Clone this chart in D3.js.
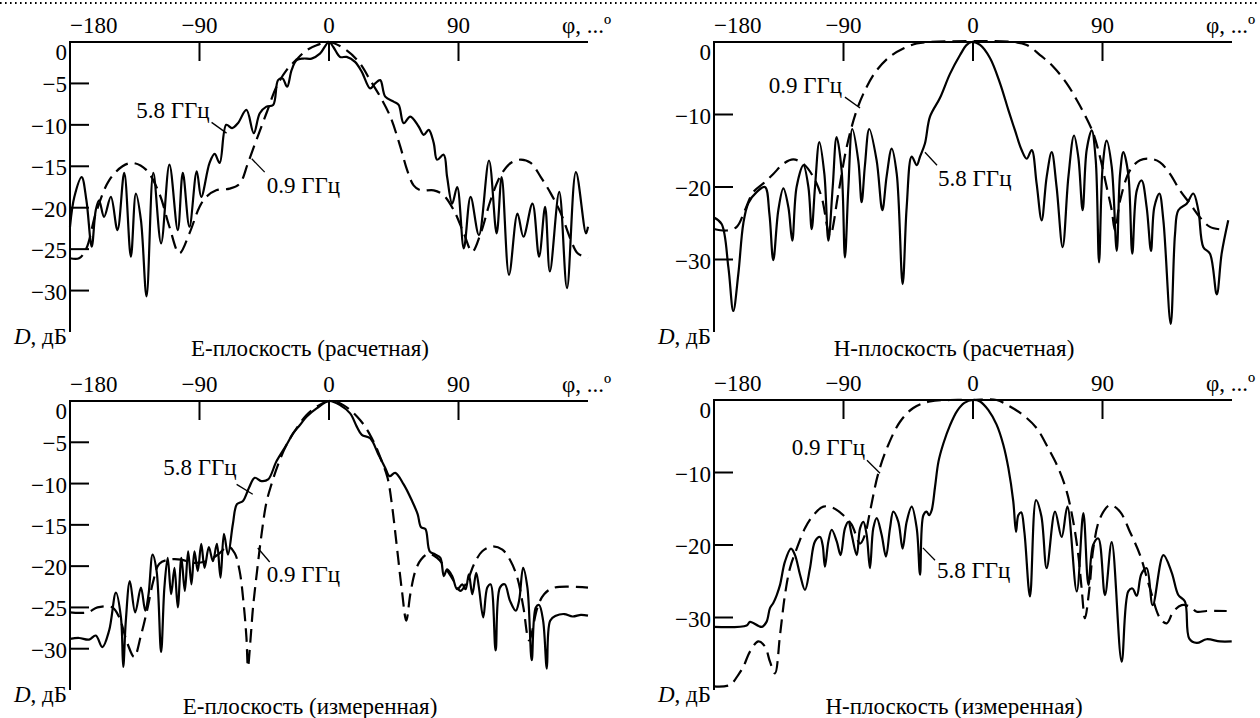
<!DOCTYPE html>
<html>
<head>
<meta charset="utf-8">
<script src="https://cdn.jsdelivr.net/npm/d3@7"></script>
<style>
  body { margin: 0; background: #fff; font-family: "Liberation Serif", serif; }
  svg { display: block; }
</style>
</head>
<body>
<div id="viz"></div>
<script>
// angle ticks and level ticks
const phiLabels = [-180, -90, 0, 90]
const phiTicks = [-90, 0, 90]
const dbTicksE = [0, -5, -10, -15, -20, -25, -30]
const dbTicksH = [0, -10, -20, -30]

// E-plane, calculated: [phi, dB]
const eCalc58 = [[-180,-22.3],[-177,-18.7],[-171.9,-16.3],[-168.6,-19.1],[-164.9,-24.7],[-162.1,-20.3],[-159.8,-19.1],[-156.3,-21.1],[-151.6,-18.7],[-147,-22.7],[-142.3,-15.8],[-137.7,-25.9],[-134.2,-18.3],[-130.7,-21.5],[-126.8,-30.7],[-122.1,-15.8],[-116.7,-24.3],[-110.9,-14.8],[-105.1,-22.7],[-101.6,-15.8],[-97,-22.3],[-91.9,-15.6],[-88.8,-18.7],[-83,-14.6],[-79.5,-13.5],[-76,-14.6],[-71.4,-10],[-67.4,-10.4],[-63.3,-9.8],[-57.4,-8.2],[-52.3,-11],[-48.1,-8.6],[-43.5,-7.8],[-38.8,-7.6],[-35.4,-4.6],[-32.3,-4.4],[-29.1,-5.4],[-26,-3.4],[-22.5,-2.2],[-17.9,-2],[-12.1,-2],[-6.3,-1.4],[0,0],[3,-0.6],[7.7,-1.8],[12.3,-1.8],[18.1,-2.4],[22.8,-3.6],[28.6,-5.6],[32.1,-5],[35.6,-4.6],[39.1,-6.6],[44.9,-7.2],[48.4,-7.6],[51.9,-9.8],[56.5,-9],[62.3,-10.2],[65.8,-11.2],[69.3,-10.6],[72.8,-12.2],[75.1,-14.2],[79.7,-13.6],[82.1,-16.3],[85.6,-19.5],[89.1,-17.5],[93.7,-24.9],[98.4,-18.7],[104.2,-23.3],[111.2,-14.3],[116.5,-23.1],[120,-16.3],[125.1,-28.1],[131,-20.7],[135.1,-23.5],[141.4,-19.5],[146,-25.9],[150.2,-19.9],[153.5,-27.7],[160,-18.1],[165.4,-29.7],[171.6,-15.7],[178.6,-23.1],[180,-22.3]]
const eCalc09 = [[-180,-26.1],[-173.7,-26.1],[-168.6,-24.9],[-162.1,-20.7],[-152.8,-16.7],[-143.5,-15],[-136.5,-14.6],[-127.2,-15.4],[-117.9,-18.3],[-110.9,-22.3],[-104,-25.5],[-97,-23.1],[-90,-19.9],[-85.3,-18.7],[-78.4,-17.9],[-69.1,-17.7],[-62.1,-17.1],[-56.3,-14.6],[-50.4,-11.8],[-43.5,-8.6],[-36.5,-5.4],[-29.5,-3.4],[-22.5,-2.1],[-15.6,-1],[-8.6,-0.4],[0,0],[12.3,-1],[21.6,-2.6],[28.6,-4.6],[35.6,-6.6],[42.6,-9],[49.5,-12.6],[54.2,-15.4],[58.8,-17.3],[63.5,-17.9],[72.8,-17.9],[79.7,-18.5],[86.7,-20.3],[93.7,-23.1],[99.5,-25.3],[105.4,-23.1],[112.3,-19.1],[119.3,-16.1],[126.3,-14.6],[133.3,-14.2],[140.2,-14.6],[147.2,-16.3],[154.2,-18.3],[161.2,-20.7],[168.1,-23.9],[172.8,-25.5],[180,-26.1]]

// H-plane, calculated
const hCalc58 = [[-180,-24.2],[-174.7,-25.1],[-170,-31.1],[-166.6,-37.1],[-163.1,-32],[-159.6,-25],[-156.1,-22.2],[-150.4,-20.7],[-144.6,-20],[-141.5,-23.7],[-138.8,-30.1],[-135.3,-23.2],[-131.8,-20.2],[-128.3,-22.8],[-125.6,-27.4],[-122.6,-20],[-117.9,-17],[-114.4,-20],[-112.1,-25.8],[-109.8,-20],[-106.8,-13.8],[-103.3,-18.2],[-100.5,-27.4],[-97.5,-20],[-94.8,-13.1],[-91.3,-17.7],[-89,-29.7],[-86.6,-20],[-83.9,-12],[-79.7,-16.4],[-77.4,-22.1],[-75.1,-17],[-72.1,-12],[-67,-16.3],[-63,-23.2],[-60,-18.5],[-56.5,-14.7],[-53,-18.2],[-48.9,-33.4],[-46.1,-22.8],[-42.6,-15.8],[-39.1,-17],[-36.8,-15.8],[-33.4,-14],[-29.9,-10.3],[-22.9,-7.7],[-16,-4.4],[-9,-1.8],[-4.4,-0.4],[-0.9,0],[4.9,-0.4],[11.8,-2.2],[18.8,-5.7],[24.6,-9.4],[29.2,-12.2],[33.8,-14.9],[37.3,-16.1],[40.8,-14.9],[44.2,-19.5],[47.7,-24.6],[51.2,-18.6],[54.7,-15.2],[58.1,-20],[62.3,-28.3],[66.3,-18.6],[70.2,-12.9],[73.2,-15.9],[76.2,-23.2],[79,-14.9],[82.5,-12.2],[85.3,-16.3],[87.6,-30.4],[90.1,-17.2],[92.9,-13.6],[96.4,-17.2],[99.9,-28.8],[102.2,-18.2],[104.5,-15.2],[107.9,-18.2],[110.7,-29.2],[113.8,-20.5],[117.2,-19.1],[120.7,-22.8],[123.7,-28.8],[126,-22.8],[129.5,-20.9],[132.3,-24.6],[137.4,-38.9],[140.4,-26.5],[142.7,-23.2],[148.5,-22.3],[153.1,-20.9],[156.6,-23.2],[160.1,-28.3],[164.7,-29.2],[169.4,-34.8],[172.8,-29.2],[177.4,-24.6]]
const hCalc09 = [[-180,-25.8],[-171.2,-26],[-164.2,-25.5],[-158.5,-23.2],[-152.7,-20.7],[-145.7,-19.5],[-138.8,-18.2],[-131.8,-16.8],[-124.9,-16.2],[-117.9,-16.8],[-111,-18.6],[-105.2,-21.4],[-99.4,-26.7],[-93.6,-20.9],[-87.8,-14.5],[-80.8,-9.4],[-73.9,-6.2],[-66.9,-3.9],[-57.7,-2],[-48.4,-0.9],[-39.1,-0.2],[-29.9,0],[28,0],[37.3,-0.4],[46.6,-1.8],[55.8,-3.4],[65.1,-5.7],[72.1,-8],[77.8,-10.1],[83.6,-12.6],[88.3,-15.9],[92.9,-20],[96.4,-23.2],[98.7,-26],[102.2,-21.9],[109.1,-17.7],[116.1,-16.3],[123,-16.1],[130,-16.6],[136.9,-18.2],[143.9,-20.5],[150.8,-22.3],[157.8,-24.2],[164.7,-25.5],[174,-25.9]]

// E-plane, measured
const eMeas58 = [[-180,-28.8],[-173.7,-28.7],[-166.8,-28.9],[-162.1,-28.4],[-157.5,-29.8],[-152.8,-27.8],[-148.1,-23.2],[-144.6,-26.2],[-143,-32.2],[-141.2,-26.6],[-138.4,-21.8],[-134.7,-25.6],[-130.7,-22.6],[-127.7,-25.4],[-125.4,-23.4],[-122.6,-18.6],[-119.8,-20.6],[-116.7,-30.4],[-114.4,-22.6],[-112.1,-19],[-109.7,-23.4],[-107.4,-20.2],[-105.1,-25],[-102.6,-19],[-100.2,-23],[-97.9,-18.2],[-95.6,-22.2],[-93.5,-18.2],[-91.2,-20.6],[-88.8,-17.3],[-86.5,-20.2],[-83.5,-17.7],[-80.7,-19.4],[-77.9,-17.3],[-75.4,-21.4],[-73,-16.1],[-70.2,-18.6],[-66.8,-14.9],[-64,-12.5],[-59.8,-12.1],[-55.6,-10.5],[-51.6,-9.3],[-47,-9.7],[-42.3,-9.5],[-36.5,-7.3],[-29.5,-5.3],[-24.9,-3.9],[-20.2,-2.9],[-15.6,-1.9],[-8.6,-0.9],[0,0],[7.7,-0.5],[14.7,-1.5],[19.3,-3.1],[22.8,-4.1],[28.6,-4.5],[34.4,-6.5],[39.1,-8.1],[42.1,-9.1],[46,-8.7],[51.9,-10.1],[57.7,-12.1],[61.6,-13.7],[64,-15.3],[67,-15.5],[70,-18.2],[74,-18.6],[77.4,-19],[79.8,-21.2],[82.1,-20.4],[85.6,-21.2],[89.1,-22.8],[92.6,-22.2],[94.9,-22.8],[97.2,-21],[99.6,-23.4],[102.3,-20.8],[104.2,-22.6],[107.2,-26.2],[110,-22.6],[112.3,-22.2],[115.8,-30.2],[118.8,-22.6],[122.1,-22.2],[125.8,-24.2],[129.8,-25.4],[132.1,-24.2],[134.9,-20.2],[137.9,-22.6],[140.9,-31.4],[143.7,-25],[146,-24.7],[148.8,-26.6],[151.4,-32.4],[153.7,-26.6],[157.7,-26],[163.5,-25.8],[169.3,-26.1],[175.1,-25.9],[180,-26]]
const eMeas09 = [[-180,-25.6],[-167.9,-25.6],[-160.9,-25],[-150.5,-25],[-145.8,-26.2],[-140,-29.4],[-135.4,-31],[-130.7,-28.4],[-126,-25],[-122.1,-21.8],[-117.9,-19.7],[-110.9,-19.2],[-102.8,-19.2],[-94.7,-19.6],[-85.3,-19.4],[-77.2,-18.6],[-70.2,-17.6],[-65.6,-18.4],[-62.1,-20.6],[-59.3,-24.6],[-57.4,-28.6],[-56.3,-32.2],[-54.6,-29],[-52.8,-25],[-50,-20.6],[-47,-16.3],[-43.5,-12.3],[-40,-10.1],[-35.4,-7.7],[-29.5,-5.3],[-22.5,-3.3],[-15.6,-1.7],[-8.6,-0.7],[0,0],[10,-0.5],[21.6,-2.3],[29.8,-4.5],[36.7,-7.3],[40.7,-9.3],[43.7,-12.5],[47.2,-17.7],[50.7,-23],[53.7,-26.6],[56.5,-23.4],[60,-20.6],[64,-19.2],[69.3,-18.5],[75.1,-19],[80.9,-20.2],[86.7,-21.8],[91.4,-23],[96.1,-21.8],[100.7,-19.8],[106.5,-18.2],[113.5,-17.6],[120.5,-18],[126.3,-19.4],[130.9,-21.4],[135.1,-25],[139.1,-29],[144.9,-25],[149.5,-23.4],[156.5,-22.6],[180,-22.6]]

// H-plane, measured
const hMeas58 = [[-180,-31.3],[-157.3,-31.1],[-155,-30.6],[-146.9,-31.3],[-143.5,-30.6],[-141.1,-28.7],[-138.8,-28],[-136.4,-26.9],[-134.1,-25.5],[-130.7,-22.3],[-126.5,-20.5],[-123.7,-21.4],[-120.2,-24.1],[-116.8,-26.2],[-113.3,-23.2],[-109.8,-19.5],[-106.3,-18.9],[-104.5,-20],[-102.9,-23],[-100.5,-19.5],[-98.2,-17.9],[-94.7,-19.5],[-92,-21.4],[-89,-17.7],[-86.6,-16.8],[-84.3,-18.6],[-80.8,-21.4],[-78.5,-17.7],[-76.2,-16.8],[-73.9,-18.6],[-71.6,-23.2],[-69.3,-17.7],[-66.9,-16.3],[-63.5,-18.6],[-60.5,-21.6],[-57.7,-17.7],[-55.4,-15.4],[-51.9,-16.8],[-48.9,-20.5],[-46.1,-16.8],[-42.6,-14.7],[-39.1,-17.7],[-36.8,-24.1],[-34.5,-15.9],[-32.2,-15.4],[-30.5,-15.9],[-28.7,-15.2],[-26.4,-12],[-24,-8.5],[-20.6,-6],[-16,-3.5],[-11,-1.5],[-6,-0.4],[0,0],[4.9,-0.2],[10.7,-1.4],[16.4,-3.4],[21.1,-6.2],[24.6,-9.4],[28,-14],[29.9,-18.2],[31.5,-15.9],[33.5,-15.5],[35.7,-18.2],[39.6,-27.1],[43.8,-13.8],[47.5,-16],[51.2,-23.2],[57,-15.4],[61.6,-18.9],[65.6,-14.7],[72.1,-26.4],[76.7,-15.6],[80.2,-25.5],[83.5,-20],[87.1,-19.1],[91.7,-26.9],[96.4,-19.6],[103.3,-36.1],[107.9,-26.4],[110.8,-26],[113.8,-27],[117,-24],[120.7,-23.2],[124.9,-28.3],[132.3,-21.4],[138.1,-23.8],[142.7,-26.9],[147.3,-27.8],[150.3,-32.9],[155.5,-33.5],[162.4,-33],[171.7,-33.3],[179.8,-33.3]]
const hMeas09 = [[-180,-39.5],[-168.9,-39.3],[-163.1,-37.9],[-159.6,-36.8],[-155,-34.7],[-149.2,-33.3],[-144.6,-34],[-141.1,-36.1],[-137.6,-37.7],[-134.1,-32.4],[-130.7,-26.9],[-127.2,-23.2],[-122.5,-20.5],[-116.8,-17.7],[-111,-15.9],[-104,-14.7],[-97.1,-14.9],[-90.1,-15.9],[-84.3,-17.2],[-78.5,-19.8],[-75.1,-18.6],[-71.6,-15.4],[-65.8,-10.1],[-58.9,-6.2],[-50.7,-3],[-41.5,-1.1],[-29.9,-0.2],[-16,0],[0,0],[16.4,0],[25.7,-0.9],[35,-2.1],[44.3,-3.9],[52.4,-6.7],[59.3,-9.4],[65.1,-12.6],[69.7,-16.8],[73.2,-21.4],[75.5,-26],[77.8,-30.1],[80.9,-26],[83.6,-20.5],[88.3,-16.3],[95.2,-14.5],[102.2,-15.4],[109.1,-18.2],[116.1,-21.4],[123,-26],[130,-30.1],[134.6,-30.8],[139.2,-29.2],[145,-28.3],[150.8,-28.5],[155.5,-29.2],[162.4,-29.1],[176.3,-29.1]]

const width = 1260
const height = 718
const serif = "Liberation Serif"

const svg = d3.select("#viz").append("svg")
  .attr("width", width)
  .attr("height", height)

// dotted rule along the top edge
svg.append("line")
  .attr("x1", 0).attr("x2", width).attr("y1", 3).attr("y2", 3)
  .attr("stroke", "#000").attr("stroke-width", 2)
  .attr("stroke-dasharray", "1.6 3.4")

const panels = [
  { title: "Е-плоскость (расчетная)", left: 70, top: 42, bottom: 332, min: -35, ticks: dbTicksE,
    solid: eCalc58, dashed: eCalc09,
    notes: [
      { text: "5.8 ГГц", at: [-83, -9.2], anchor: "end", lead: [[-81.6, -9.7], [-71.2, -11]] },
      { text: "0.9 ГГц", at: [-43.3, -18.2], anchor: "start", lead: [[-53.7, -14.1], [-44.7, -15.7]] }
    ] },
  { title: "Н-плоскость (расчетная)", left: 714, top: 42, bottom: 332, min: -40, ticks: dbTicksH,
    solid: hCalc58, dashed: hCalc09,
    notes: [
      { text: "0.9 ГГц", at: [-91, -7.1], anchor: "end", lead: [[-89, -7.6], [-78.5, -9.1]] },
      { text: "5.8 ГГц", at: [-24.3, -19.9], anchor: "start", lead: [[-33.4, -15.2], [-25, -17]] }
    ] },
  { title: "Е-плоскость (измеренная)", left: 70, top: 401, bottom: 690, min: -35, ticks: dbTicksE,
    solid: eMeas58, dashed: eMeas09,
    notes: [
      { text: "5.8 ГГц", at: [-64.2, -9.0], anchor: "end", lead: [[-64.2, -10.1], [-53, -11.3]] },
      { text: "0.9 ГГц", at: [-43.3, -21.9], anchor: "start", lead: [[-49.5, -17.8], [-41.2, -19.5]] }
    ] },
  { title: "Н-плоскость (измеренная)", left: 714, top: 400, bottom: 690, min: -40, ticks: dbTicksH,
    solid: hMeas58, dashed: hMeas09,
    notes: [
      { text: "0.9 ГГц", at: [-75, -7.6], anchor: "end", lead: [[-73.7, -8.3], [-64.6, -10.1]] },
      { text: "5.8 ГГц", at: [-25, -24.6], anchor: "start", lead: [[-34.8, -20.4], [-26.4, -22.1]] }
    ] }
]

const minus = v => String(v).replace("-", "\u2212")

panels.forEach(p => {
  const x = d3.scaleLinear().domain([-180, 180]).range([p.left, p.left + 518])
  const y = d3.scaleLinear().domain([p.min, 0]).range([p.bottom, p.top])
  const g = svg.append("g")

  const line = d3.line()
    .x(d => x(d[0]))
    .y(d => y(d[1]))
    .curve(d3.curveCatmullRom.alpha(0.5))

  g.append("path")
    .attr("d", line(p.dashed))
    .attr("fill", "none").attr("stroke", "#000").attr("stroke-width", 2.2)
    .attr("stroke-dasharray", "14 7")

  g.append("path")
    .attr("d", line(p.solid))
    .attr("fill", "none").attr("stroke", "#000").attr("stroke-width", 2.2)
    .attr("stroke-linejoin", "round")

  // axes: top line at 0 dB and left line at -180
  g.append("line")
    .attr("x1", x(-180)).attr("x2", x(180)).attr("y1", y(0)).attr("y2", y(0))
    .attr("stroke", "#000").attr("stroke-width", 2)
  g.append("line")
    .attr("x1", x(-180)).attr("x2", x(-180)).attr("y1", y(0) - 1).attr("y2", y(p.min))
    .attr("stroke", "#000").attr("stroke-width", 2)

  g.selectAll(".xt").data(phiTicks).enter().append("line")
    .attr("x1", d => x(d)).attr("x2", d => x(d))
    .attr("y1", y(0)).attr("y2", y(0) + 19)
    .attr("stroke", "#000").attr("stroke-width", 2)

  g.selectAll(".xl").data(phiLabels).enter().append("text")
    .attr("x", d => x(d))
    .attr("y", y(0) - 9)
    .attr("text-anchor", d => d === -180 ? "start" : "middle")
    .text(d => minus(d))

  g.append("text")
    .attr("x", x(180) - 26).attr("y", y(0) - 9)
    .text("φ, ...º")

  g.selectAll(".yt").data(p.ticks.filter(d => d !== 0)).enter().append("line")
    .attr("x1", x(-180)).attr("x2", x(-180) + 19)
    .attr("y1", d => y(d)).attr("y2", d => y(d))
    .attr("stroke", "#000").attr("stroke-width", 2)

  g.selectAll(".yl").data(p.ticks).enter().append("text")
    .attr("x", x(-180) - 3)
    .attr("y", d => d === 0 ? y(d) + 10 : y(d) + 1)
    .attr("dy", "0.35em")
    .attr("text-anchor", "end")
    .text(d => minus(d))

  const unit = g.append("text")
    .attr("x", x(-180) - 3).attr("y", y(p.min) + 12)
    .attr("text-anchor", "end")
  unit.append("tspan").attr("font-style", "italic").text("D")
  unit.append("tspan").text(", дБ")

  g.append("text")
    .attr("x", (x(-180) + x(180)) / 2 - 19)
    .attr("y", y(p.min) + 24)
    .attr("text-anchor", "middle")
    .text(p.title)

  p.notes.forEach(n => {
    g.append("text")
      .attr("x", x(n.at[0])).attr("y", y(n.at[1]))
      .attr("text-anchor", n.anchor)
      .text(n.text)
    g.append("line")
      .attr("x1", x(n.lead[0][0])).attr("y1", y(n.lead[0][1]))
      .attr("x2", x(n.lead[1][0])).attr("y2", y(n.lead[1][1]))
      .attr("stroke", "#000").attr("stroke-width", 1.3)
  })
})

// every label in the serif face, set on the element itself
svg.selectAll("text")
  .attr("font-family", serif)
  .attr("font-size", 23)
  .attr("fill", "#000")
  .style("font-family", serif)
</script>
</body>
</html>
